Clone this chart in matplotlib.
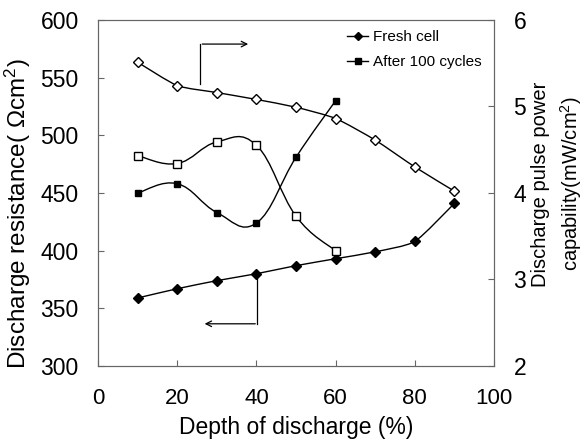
import numpy as np
import matplotlib
matplotlib.use('Agg')
import matplotlib.pyplot as plt
from matplotlib.path import Path
from matplotlib.patches import PathPatch

plt.rcParams['font.family'] = ['Liberation Sans', 'DejaVu Sans']
plt.rcParams['mathtext.default'] = 'regular'

# data
dod_fresh = [10, 20, 30, 40, 50, 60, 70, 80, 90]
res_fresh = [359, 367, 374, 380, 387, 393, 399, 408, 441]
pow_fresh = [5.51, 5.24, 5.16, 5.08, 4.99, 4.86, 4.61, 4.30, 4.02]

dod_cyc = [10, 20, 30, 40, 50, 60]
res_cyc = [450, 458, 433, 424, 481, 530]
pow_cyc = [4.43, 4.34, 4.59, 4.55, 3.73, 3.33]


def smooth_path(ax, x, y, t=0.5):
    # catmull-rom style bezier through the data points, in display space
    pts = ax.transData.transform(np.column_stack([x, y]))
    verts = [pts[0]]
    codes = [Path.MOVETO]
    n = len(pts)
    for i in range(n - 1):
        p0 = pts[i - 1] if i > 0 else pts[i]
        p1 = pts[i]
        p2 = pts[i + 1]
        p3 = pts[i + 2] if i + 2 < n else pts[i + 1]
        c1 = p1 + (p2 - p0) * t / 3
        c2 = p2 - (p3 - p1) * t / 3
        verts += [c1, c2, p2]
        codes += [Path.CURVE4] * 3
    path = Path(ax.transData.inverted().transform(np.array(verts)), codes)
    ax.add_patch(PathPatch(path, fill=False, lw=1.0, color='black', zorder=2))


fig = plt.figure(figsize=(5.84, 4.41), dpi=100)
ax = fig.add_axes([0.168, 0.170, 0.678, 0.785])
ax2 = ax.twinx()

ax.set_xlim(0, 100)
ax.set_ylim(300, 600)
ax2.set_ylim(2, 6)

smooth_path(ax, dod_fresh, res_fresh, t=0.3)
smooth_path(ax, dod_cyc, res_cyc, t=0.6)
smooth_path(ax2, dod_fresh, pow_fresh, t=0.3)
smooth_path(ax2, dod_cyc, pow_cyc, t=0.6)

ax.plot(dod_fresh, res_fresh, 'D', color='black', ms=5, zorder=3)
ax.plot(dod_cyc, res_cyc, 's', color='black', ms=4.5, zorder=3)
ax2.plot(dod_fresh, pow_fresh, 'D', mfc='white', mec='black', ms=5,
         mew=1.0, zorder=3)
ax2.plot(dod_cyc, pow_cyc, 's', mfc='white', mec='black', ms=5.5,
         mew=1.0, zorder=3)

# legend entries
ax.plot([], [], 'D-', color='black', ms=4.5, lw=1, label='Fresh cell')
ax.plot([], [], 's-', color='black', ms=4.5, lw=1, label='After 100 cycles')
ax.legend(loc='upper left', bbox_to_anchor=(347 / 584, 1 - 30 / 441),
          bbox_transform=fig.transFigure, frameon=False, borderpad=0,
          borderaxespad=0, fontsize=11, handlelength=1.4,
          handletextpad=0.3, labelspacing=0.75)

# arrows pointing to the relevant axis
ax.plot([25.8, 25.8], [544, 579], color='black', lw=0.9)
ax.annotate('', xy=(38.6, 579), xytext=(25.6, 579),
            arrowprops=dict(arrowstyle='->', color='black', lw=0.9))
ax.plot([40.2, 40.2], [380, 336.6], color='black', lw=0.9)
ax.annotate('', xy=(26.2, 336.6), xytext=(40.4, 336.6),
            arrowprops=dict(arrowstyle='->', color='black', lw=0.9))

ax.set_xticks(np.arange(0, 101, 20))
ax.set_yticks(np.arange(300, 601, 50))
ax2.set_yticks(np.arange(2, 7, 1))
ax.tick_params(axis='x', direction='in', labelsize=16, length=4,
               color='#666666', pad=15.5)
ax.tick_params(axis='y', direction='in', labelsize=16.5, length=4,
               color='#666666', pad=14)
ax2.tick_params(axis='y', direction='in', labelsize=16.5, length=4,
                color='#666666', pad=14)
for a in (ax, ax2):
    for s in a.spines.values():
        s.set_color('#666666')

ax.set_xlabel('Depth of discharge (%)', fontsize=16.5, labelpad=5)
ax.set_ylabel('Discharge resistance( Ωcm$^2$)', fontsize=17.5)
ax.yaxis.set_label_coords(-0.164, 0.44)
ax2.set_ylabel('Discharge pulse power\ncapability(mW/cm$^2$)', fontsize=14.5,
               linespacing=1.4)
ax2.yaxis.set_label_coords(1.094, 0.526)

fig.savefig('out.png', dpi=100)
